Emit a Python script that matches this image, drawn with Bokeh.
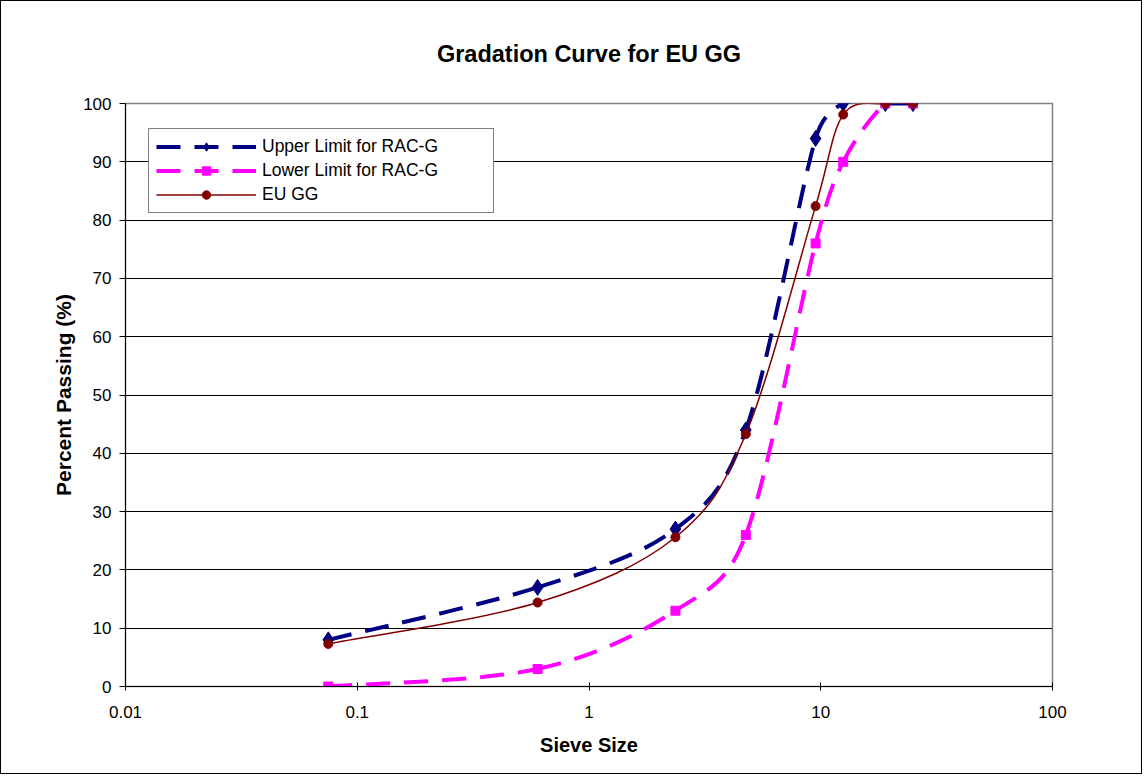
import numpy as np
from bokeh.plotting import figure
from bokeh.models import Range1d, FixedTicker, Legend, LegendItem
from bokeh.embed import file_html
from bokeh.resources import INLINE

# ---- data ----
sieve_size = [0.075, 0.6, 2.36, 4.75, 9.5, 12.5, 19, 25]
upper_limit = [8, 17, 27, 44, 94, 100, 100, 100]
lower_limit = [0, 3, 13, 26, 76, 90, 100, 100]
eu_gg = [7.3, 14.4, 25.6, 43.3, 82.4, 98.1, 100, 100]
series_names = ["Upper Limit for RAC-G", "Lower Limit for RAC-G", "EU GG"]
chart_title = "Gradation Curve for EU GG"
x_ticks = [0.01, 0.1, 1, 10, 100]
x_tick_labels = ["0.01", "0.1", "1", "10", "100"]
y_ticks = [0, 10, 20, 30, 40, 50, 60, 70, 80, 90, 100]

FONT = "Liberation Sans"
FW, FH = 927, 583
XMIN, XMAX, YMIN, YMAX = 0.01, 100, 0, 100
sx = FW / (np.log10(XMAX) - np.log10(XMIN))
sy = FH / (YMAX - YMIN)


def smooth(xs, ys):
    """Excel-like smoothed line: bezier segments through the data points."""
    lx = np.log10(np.asarray(xs, float)) * sx
    ly = np.asarray(ys, float) * sy
    P = np.column_stack([lx, ly])
    P = np.vstack([P[0], P, P[-1]])
    out = {k: [] for k in ["x0", "y0", "x1", "y1", "cx0", "cy0", "cx1", "cy1"]}
    for i in range(1, len(P) - 2):
        p0, p1, p2, p3 = P[i - 1], P[i], P[i + 1], P[i + 2]
        d12 = np.linalg.norm(p2 - p1)
        d02 = np.linalg.norm(p2 - p0)
        d13 = np.linalg.norm(p3 - p1)
        f1 = 1 / 6
        f2 = 1 / 6
        if d02 / 6 > d12 / 2 and d02 > 0:
            f1 = d12 / (2 * d02)
        if d13 / 6 > d12 / 2 and d13 > 0:
            f2 = d12 / (2 * d13)
        c1 = p1 + (p2 - p0) * f1
        c2 = p2 - (p3 - p1) * f2
        for key, pt in (("0", p1), ("1", p2)):
            out["x" + key].append(10 ** (pt[0] / sx))
            out["y" + key].append(pt[1] / sy)
        out["cx0"].append(10 ** (c1[0] / sx)); out["cy0"].append(c1[1] / sy)
        out["cx1"].append(10 ** (c2[0] / sx)); out["cy1"].append(c2[1] / sy)
    return out


p = figure(
    x_axis_type="log",
    x_range=Range1d(XMIN, XMAX),
    y_range=Range1d(YMIN, YMAX),
    frame_width=FW, frame_height=FH,
    min_border_left=124, min_border_right=89,
    min_border_top=102, min_border_bottom=87,
    output_backend="svg", toolbar_location=None,
    title=chart_title,
)
p.styles = {"border": "1px solid black"}

p.title.align = "center"
p.title.text_font = FONT
p.title.text_font_size = "23.5px"
p.title.text_font_style = "bold"
p.title.text_color = "black"
p.title.standoff = 73
p.title.offset = -8

p.outline_line_color = "#808080"
p.outline_line_width = 1.5

p.xgrid.grid_line_color = None
p.ygrid.grid_line_color = "black"
p.ygrid.grid_line_width = 1
p.yaxis.ticker = FixedTicker(ticks=y_ticks)
p.xaxis.ticker = FixedTicker(ticks=x_ticks)
p.xaxis.major_label_overrides = dict(zip(x_ticks, x_tick_labels))

for ax in (p.xaxis, p.yaxis):
    ax.axis_line_color = "black"
    ax.major_tick_line_color = "black"
    ax.minor_tick_line_color = None
    ax.major_label_text_font = FONT
    ax.major_label_text_font_size = "17px"
    ax.major_label_text_color = "black"
    ax.axis_label_text_font = FONT
    ax.axis_label_text_font_size = "20px"
    ax.axis_label_text_font_style = "bold"
    ax.axis_label_text_color = "black"
p.yaxis.axis_label_text_font_size = "21px"

p.xaxis.axis_label = "Sieve Size"
p.yaxis.axis_label = "Percent Passing (%)"
p.xaxis.major_tick_in = 4
p.xaxis.major_tick_out = 4
p.yaxis.major_tick_in = 0
p.yaxis.major_tick_out = 6
p.xaxis.major_label_standoff = 15
p.yaxis.major_label_standoff = 8
p.xaxis.axis_label_standoff = 13
p.yaxis.axis_label_standoff = 5

styles = [
    dict(color="#000080", width=4, dash="24 14", marker="diamond", size=16),
    dict(color="#FF00FF", width=4, dash="24 14", marker="square", size=9),
    dict(color="#800000", width=1.5, dash="solid", marker="circle", size=9),
]
items = []
for name, ys, st in zip(series_names, [upper_limit, lower_limit, eu_gg], styles):
    seg = smooth(sieve_size, ys)
    r1 = p.bezier(**seg, line_color=st["color"], line_width=st["width"], line_dash=st["dash"])
    r2 = p.scatter(sieve_size, ys, marker=st["marker"], size=st["size"],
                   fill_color=st["color"], line_color=st["color"])
    items.append(LegendItem(label=name, renderers=[r1, r2]))

legend = Legend(items=items, location=(23, 473))
legend.border_line_color = "black"
legend.border_line_width = 1
legend.background_fill_color = "white"
legend.background_fill_alpha = 1
legend.padding = 7
legend.glyph_width = 100
legend.glyph_height = 21
legend.spacing = 3
legend.label_standoff = 6
legend.label_width = 224
legend.label_text_font = FONT
legend.label_text_font_size = "17.5px"
legend.label_text_color = "black"
legend.margin = 0
p.add_layout(legend, "center")

open("out.html", "w").write(file_html(p, INLINE))
